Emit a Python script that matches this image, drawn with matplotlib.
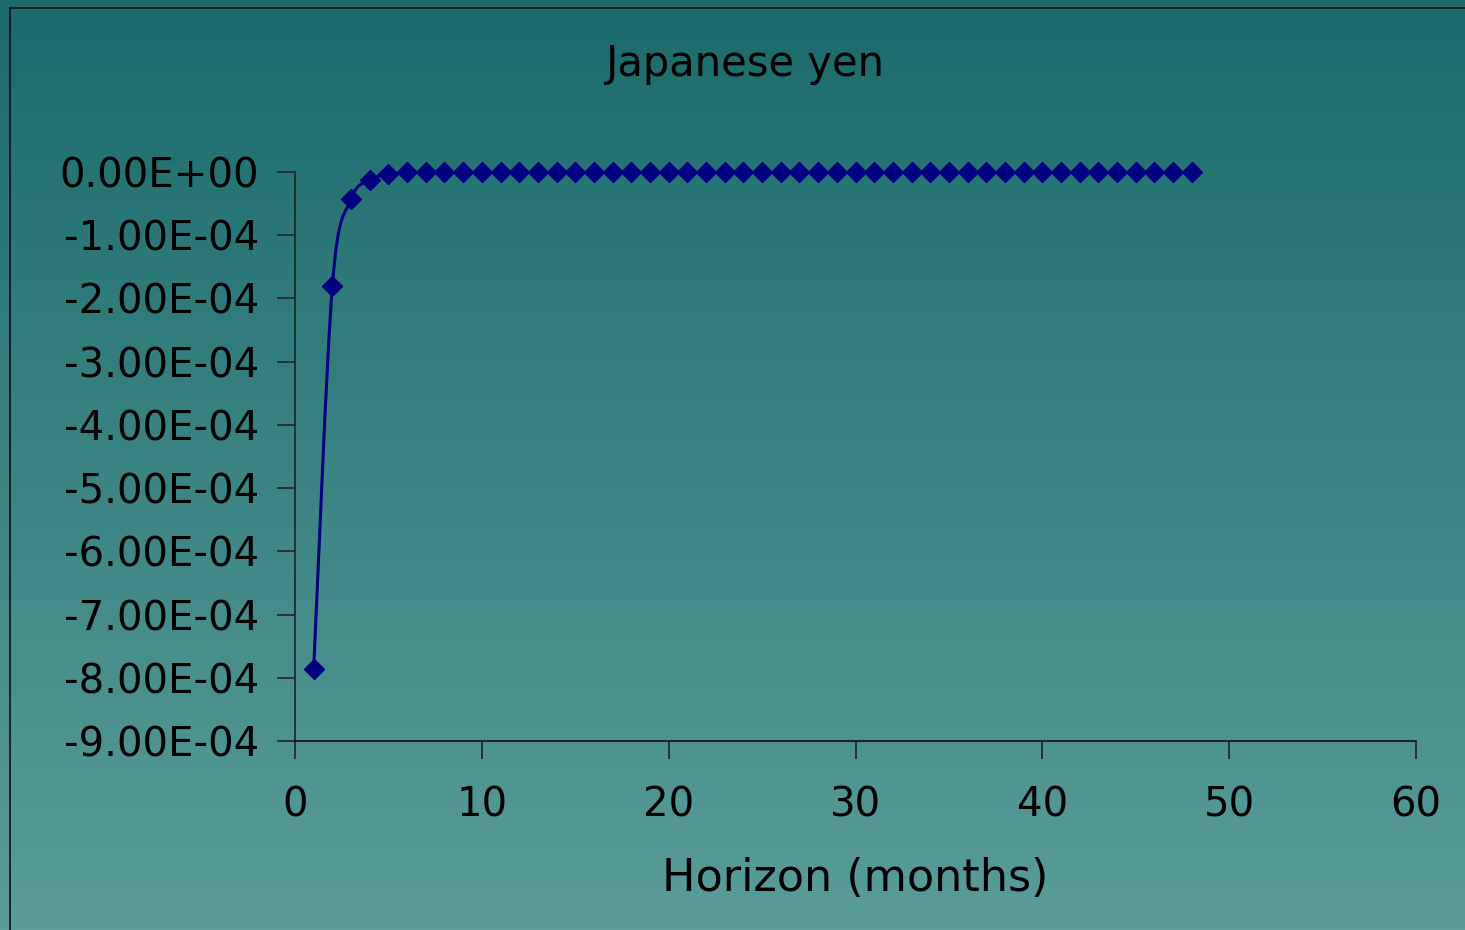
import numpy as np
import matplotlib.pyplot as plt
from matplotlib.path import Path
from matplotlib.patches import PathPatch
from matplotlib.colors import LinearSegmentedColormap
from matplotlib.ticker import FuncFormatter, MultipleLocator
from matplotlib.lines import Line2D

# impulse response of the yen, horizon 1..48 months
horizon = list(range(1, 49))
response = [-7.86e-4, -1.80e-4, -0.43e-4, -0.127e-4, -0.03e-4, -0.007e-4] + [0.0] * 42

title = "Japanese yen"
xlabel = "Horizon (months)"

plt.rcParams['font.family'] = ['DejaVu Sans']

fig = plt.figure(figsize=(14.65, 9.30), dpi=100)

# vertical teal gradient behind everything
bg = fig.add_axes([0, 0, 1, 1], zorder=-10)
grad = LinearSegmentedColormap.from_list("teal", ["#1b6a6b", "#5a9d9b"])
bg.imshow(np.linspace(0, 1, 256).reshape(-1, 1), aspect="auto", cmap=grad,
          extent=[0, 1, 0, 1], origin="upper")
bg.set_axis_off()

# thin frame on the left and top
fig.add_artist(Line2D([10 / 1465, 10 / 1465], [0, 1 - 8 / 930], color="#111111", lw=1.2))
fig.add_artist(Line2D([10 / 1465, 1], [1 - 8 / 930, 1 - 8 / 930], color="#111111", lw=1.2))

ax = fig.add_axes([295 / 1465, 1 - 741 / 930, (1416 - 295) / 1465, (741 - 172) / 930])
ax.patch.set_alpha(0)

# smoothed line through the points (cubic Bezier, Catmull-Rom style)
pts = np.column_stack([horizon, response])
verts = [pts[0]]
codes = [Path.MOVETO]
n = len(pts)
for i in range(n - 1):
    p0 = pts[max(i - 1, 0)]
    p1 = pts[i]
    p2 = pts[i + 1]
    p3 = pts[min(i + 2, n - 1)]
    c1 = p1 + (p2 - p0) / 6
    c2 = p2 - (p3 - p1) / 6
    verts += [c1, c2, p2]
    codes += [Path.CURVE4] * 3
ax.add_patch(PathPatch(Path(verts, codes), facecolor="none", edgecolor="#000080",
                       lw=2.2, zorder=3))
ax.plot(horizon, response, linestyle="none", marker="D", markersize=10,
        color="#000080", zorder=4, clip_on=False)

ax.set_xlim(0, 60)
ax.set_ylim(-9e-4, 0)
ax.xaxis.set_major_locator(MultipleLocator(10))
ax.yaxis.set_major_locator(MultipleLocator(1e-4))


def sci(v, pos):
    s = "%.2E" % v
    if abs(v) < 1e-12:
        s = "0.00E+00"
    return s


ax.yaxis.set_major_formatter(FuncFormatter(sci))

for side in ["top", "right"]:
    ax.spines[side].set_visible(False)
ax.spines["left"].set_color("#222222")
ax.spines["bottom"].set_color("#111111")
ax.spines["left"].set_linewidth(1.2)
ax.spines["bottom"].set_linewidth(1.2)
ax.tick_params(axis="both", direction="out", length=13, width=1.2, color="#222222",
               labelsize=29, labelcolor="black")
ax.tick_params(axis="y", pad=13)
ax.tick_params(axis="x", pad=19)

ax.set_xlabel(xlabel, fontsize=32, labelpad=23)
fig.text(745 / 1465, 1 - 64 / 930, title, ha="center", va="center", fontsize=30)

fig.savefig("out.png", dpi=100)
